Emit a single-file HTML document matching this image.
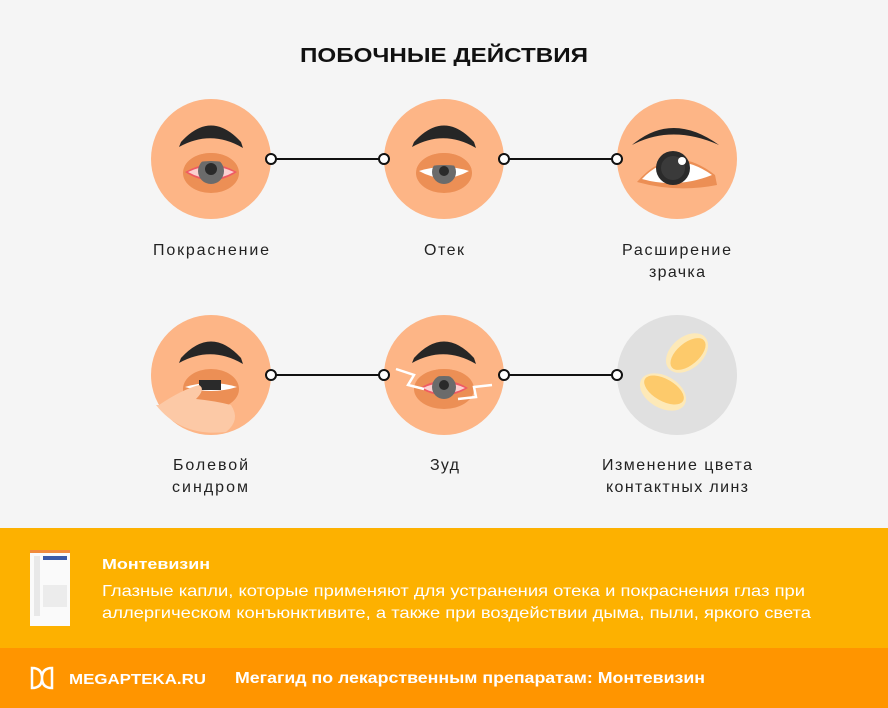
<!DOCTYPE html>
<html><head><meta charset="utf-8"><style>
html,body{margin:0;padding:0;width:888px;height:708px;overflow:hidden;background:#f5f5f5;font-family:"Liberation Sans",sans-serif}
</style></head><body>
<svg width="888" height="708" viewBox="0 0 888 708" xmlns="http://www.w3.org/2000/svg" font-family="Liberation Sans, sans-serif">
<rect width="888" height="708" fill="#f5f5f5"/>
<text x="300" y="62" font-size="20" font-weight="bold" textLength="288" lengthAdjust="spacingAndGlyphs" fill="#111">ПОБОЧНЫЕ ДЕЙСТВИЯ</text>
<defs>
<g id="brow"><path d="M-32,-12 L-30,-17 Q0,-50 30,-17 L32,-11 Q0,-30 -32,-12Z" fill="#262626"/></g>
<clipPath id="ec"><ellipse cx="0" cy="14" rx="28" ry="20"/></clipPath>
<clipPath id="ec2"><ellipse cx="0" cy="14" rx="30" ry="20"/></clipPath>
</defs>
<g stroke="#111" stroke-width="2">
<line x1="271" y1="159" x2="384" y2="159"/><line x1="504" y1="159" x2="617" y2="159"/>
<line x1="271" y1="375" x2="384" y2="375"/><line x1="504" y1="375" x2="617" y2="375"/>
</g>
<!-- circle 1 -->
<g transform="translate(211,159)">
<circle r="60" fill="#fdb586"/>
<use href="#brow"/>
<ellipse cx="0" cy="14" rx="28" ry="20" fill="#ec8f55"/>
<g clip-path="url(#ec)">
<path d="M-26,13 Q0,-2 26,13 Q0,30 -26,13Z" fill="#ef5a63"/>
<path d="M-23,13 Q0,2 23,13 Q0,26 -23,13Z" fill="#fbd0d0"/>
<circle cx="0" cy="12" r="13" fill="#6b6b6b"/>
<circle cx="0" cy="10" r="6" fill="#2a2a2a"/>
<path d="M-30,8 Q0,-4 30,8 L30,-8 L-30,-8Z" fill="#ec8f55"/>
</g>
</g>
<!-- circle 2 -->
<g transform="translate(444,159)">
<circle r="60" fill="#fdb586"/>
<use href="#brow"/>
<ellipse cx="0" cy="14" rx="28" ry="20" fill="#ec8f55"/>
<g clip-path="url(#ec)">
<path d="M-25,12 Q0,4 25,12 Q0,26 -25,12Z" fill="#fff"/>
<circle cx="0" cy="13" r="12" fill="#6b6b6b"/>
<circle cx="0" cy="12" r="5" fill="#2a2a2a"/>
<path d="M-30,11 Q0,1 30,11 L30,-8 L-30,-8Z" fill="#ec8f55"/>
</g>
</g>
<!-- circle 3 -->
<g transform="translate(677,159)">
<circle r="60" fill="#fdb586"/>
<path d="M-45,-14 Q-5,-48 42,-14 Q-5,-35 -45,-14Z" fill="#262626"/>
<path d="M-40,23 Q-5,-18 38,16 L40,26 Q0,34 -40,23Z" fill="#ec8f55"/>
<path d="M-35,20 Q-5,-12 35,16 Q0,30 -35,20Z" fill="#fff"/>
<circle cx="-4" cy="9" r="17" fill="#2a2a2a"/>
<circle cx="-4" cy="9" r="12" fill="#3a3a3a"/>
<circle cx="5" cy="2" r="4" fill="#fff"/>
</g>
<!-- circle 4 -->
<g transform="translate(211,375)">
<circle r="60" fill="#fdb586"/>
<use href="#brow"/>
<ellipse cx="0" cy="14" rx="28" ry="20" fill="#ec8f55"/>
<g clip-path="url(#ec)">
<path d="M-26,12 Q0,4 26,12 Q0,20 -26,12Z" fill="#fff"/>
<rect x="-12" y="5" width="22" height="10" fill="#2a2a2a"/>
</g>
<path d="M-52,30 Q-30,15 -12,10 Q-5,14 -15,24 Q5,26 20,30 Q30,45 15,57 Q-30,62 -55,30Z" fill="#fcc9a6"/>
</g>
<!-- circle 5 -->
<g transform="translate(444,375)">
<circle r="60" fill="#fdb586"/>
<use href="#brow"/>
<ellipse cx="0" cy="14" rx="30" ry="20" fill="#ec8f55"/>
<g clip-path="url(#ec2)">
<path d="M-24,13 Q0,-2 24,13 Q0,28 -24,13Z" fill="#ef5a63"/>
<path d="M-21,13 Q0,3 21,13 Q0,24 -21,13Z" fill="#fbd0d0"/>
<circle cx="0" cy="12" r="12" fill="#6b6b6b"/>
<circle cx="0" cy="10" r="5" fill="#2a2a2a"/>
<path d="M-32,7 Q0,-5 32,7 L32,-8 L-32,-8Z" fill="#ec8f55"/>
</g>
<polyline points="-48,-6 -30,0 -36,10 -20,14" fill="none" stroke="#fff" stroke-width="2.5"/>
<polyline points="48,10 30,12 32,22 14,24" fill="none" stroke="#fff" stroke-width="2.5"/>
</g>
<!-- circle 6 -->
<g transform="translate(677,375)">
<circle r="60" fill="#e0e0e0"/>
<ellipse cx="10" cy="-22" rx="24" ry="16" transform="rotate(-40 10 -22)" fill="#fde9b8"/>
<ellipse cx="11" cy="-21" rx="21" ry="11" transform="rotate(-40 11 -21)" fill="#fdca6b"/>
<ellipse cx="-14" cy="17" rx="25" ry="16" transform="rotate(30 -14 17)" fill="#fde9b8"/>
<ellipse cx="-13" cy="15" rx="22" ry="11" transform="rotate(30 -13 15)" fill="#fdca6b"/>
</g>
<g fill="#fff" stroke="#111" stroke-width="2">
<circle cx="271" cy="159" r="5"/><circle cx="384" cy="159" r="5"/><circle cx="504" cy="159" r="5"/><circle cx="617" cy="159" r="5"/>
<circle cx="271" cy="375" r="5"/><circle cx="384" cy="375" r="5"/><circle cx="504" cy="375" r="5"/><circle cx="617" cy="375" r="5"/>
</g>
<g font-size="16" fill="#222" lengthAdjust="spacingAndGlyphs">
<text x="153" y="255" textLength="116">Покраснение</text>
<text x="424" y="255" textLength="40">Отек</text>
<text x="622" y="255" textLength="109">Расширение</text><text x="649" y="277" textLength="56">зрачка</text>
<text x="173" y="470" textLength="75">Болевой</text><text x="172" y="492" textLength="76">синдром</text>
<text x="430" y="470" textLength="29">Зуд</text>
<text x="602" y="470" textLength="150">Изменение цвета</text><text x="606" y="492" textLength="142">контактных линз</text>
</g>
<rect x="0" y="528" width="888" height="120" fill="#fdb100"/>
<rect x="0" y="648" width="888" height="60" fill="#ff9500"/>
<rect x="30" y="550" width="40" height="76" fill="#fafafa"/>
<rect x="30" y="550" width="40" height="3" fill="#f08a3c"/>
<rect x="43" y="556" width="24" height="4" fill="#3a5aa8"/>
<rect x="34" y="556" width="6" height="60" fill="#e8e8e8"/>
<rect x="43" y="585" width="24" height="22" fill="#ececec"/>
<text x="102" y="569" font-size="15" font-weight="bold" fill="#fff" textLength="108" lengthAdjust="spacingAndGlyphs">Монтевизин</text>
<text x="102" y="596" font-size="16" fill="#fff" textLength="703" lengthAdjust="spacingAndGlyphs">Глазные капли, которые применяют для устранения отека и покраснения глаз при</text>
<text x="102" y="618" font-size="16" fill="#fff" textLength="709" lengthAdjust="spacingAndGlyphs">аллергическом конъюнктивите, а также при воздействии дыма, пыли, яркого света</text>
<path d="M32,668 L32,688 Q42,688 42,678 Q42,688 52,688 L52,668 Q42,668 42,678 Q42,668 32,668Z" fill="none" stroke="#fff" stroke-width="2.5"/>
<text x="69" y="684" font-size="15" font-weight="bold" fill="#fff" textLength="137" lengthAdjust="spacingAndGlyphs">MEGAPTEKA.RU</text>
<text x="235" y="683" font-size="16" font-weight="bold" fill="#fff" textLength="470" lengthAdjust="spacingAndGlyphs">Мегагид по лекарственным препаратам: Монтевизин</text>
</svg>
</body></html>
